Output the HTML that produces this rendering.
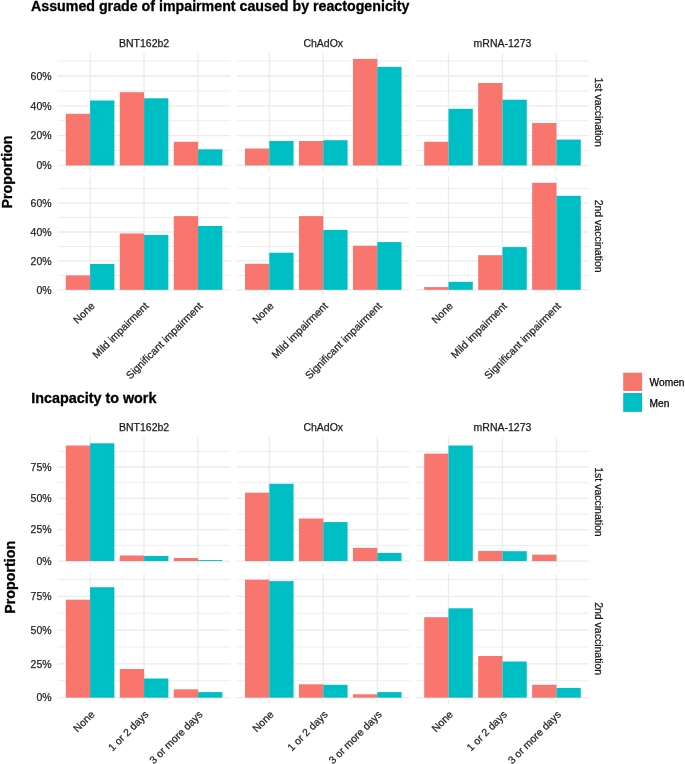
<!DOCTYPE html>
<html><head><meta charset="utf-8"><title>Chart</title>
<style>
html,body{margin:0;padding:0;background:#fff;}
body{width:685px;height:764px;overflow:hidden;}
svg{display:block;}
text{font-family:"Liberation Sans", sans-serif;}
.ax{font-size:10.5px;fill:#262626;stroke:#262626;stroke-width:0.25px;}
.st{font-size:10.5px;fill:#1A1A1A;stroke:#1A1A1A;stroke-width:0.25px;}
.lg{font-size:10.2px;fill:#000;stroke:#000;stroke-width:0.25px;}
.yt{font-size:14.3px;font-weight:bold;fill:#000;stroke:#000;stroke-width:0.3px;}
.tt{font-size:14px;font-weight:bold;fill:#000;stroke:#000;stroke-width:0.3px;}
</style></head>
<body>
<svg width="685" height="764" viewBox="0 0 685 764">
<defs><filter id="gs" x="0" y="0" width="100%" height="100%" filterUnits="userSpaceOnUse"><feColorMatrix type="saturate" values="0"/></filter></defs>
<rect x="0" y="0" width="685" height="764" fill="#fff"/>
<line x1="57.7" x2="230.45" y1="150.54" y2="150.54" stroke="#EDEDED" stroke-width="1"/>
<line x1="57.7" x2="230.45" y1="120.72" y2="120.72" stroke="#EDEDED" stroke-width="1"/>
<line x1="57.7" x2="230.45" y1="90.9" y2="90.9" stroke="#EDEDED" stroke-width="1"/>
<line x1="57.7" x2="230.45" y1="61.08" y2="61.08" stroke="#EDEDED" stroke-width="1"/>
<line x1="57.7" x2="230.45" y1="165.45" y2="165.45" stroke="#EBEBEB" stroke-width="1.3"/>
<line x1="57.7" x2="230.45" y1="135.63" y2="135.63" stroke="#EBEBEB" stroke-width="1.3"/>
<line x1="57.7" x2="230.45" y1="105.81" y2="105.81" stroke="#EBEBEB" stroke-width="1.3"/>
<line x1="57.7" x2="230.45" y1="75.99" y2="75.99" stroke="#EBEBEB" stroke-width="1.3"/>
<line x1="90.09" x2="90.09" y1="53.3" y2="171.1" stroke="#EBEBEB" stroke-width="1.3"/>
<line x1="144.07" x2="144.07" y1="53.3" y2="171.1" stroke="#EBEBEB" stroke-width="1.3"/>
<line x1="198.06" x2="198.06" y1="53.3" y2="171.1" stroke="#EBEBEB" stroke-width="1.3"/>
<line x1="236.9" x2="409.65" y1="150.54" y2="150.54" stroke="#EDEDED" stroke-width="1"/>
<line x1="236.9" x2="409.65" y1="120.72" y2="120.72" stroke="#EDEDED" stroke-width="1"/>
<line x1="236.9" x2="409.65" y1="90.9" y2="90.9" stroke="#EDEDED" stroke-width="1"/>
<line x1="236.9" x2="409.65" y1="61.08" y2="61.08" stroke="#EDEDED" stroke-width="1"/>
<line x1="236.9" x2="409.65" y1="165.45" y2="165.45" stroke="#EBEBEB" stroke-width="1.3"/>
<line x1="236.9" x2="409.65" y1="135.63" y2="135.63" stroke="#EBEBEB" stroke-width="1.3"/>
<line x1="236.9" x2="409.65" y1="105.81" y2="105.81" stroke="#EBEBEB" stroke-width="1.3"/>
<line x1="236.9" x2="409.65" y1="75.99" y2="75.99" stroke="#EBEBEB" stroke-width="1.3"/>
<line x1="269.29" x2="269.29" y1="53.3" y2="171.1" stroke="#EBEBEB" stroke-width="1.3"/>
<line x1="323.27" x2="323.27" y1="53.3" y2="171.1" stroke="#EBEBEB" stroke-width="1.3"/>
<line x1="377.26" x2="377.26" y1="53.3" y2="171.1" stroke="#EBEBEB" stroke-width="1.3"/>
<line x1="416.1" x2="588.85" y1="150.54" y2="150.54" stroke="#EDEDED" stroke-width="1"/>
<line x1="416.1" x2="588.85" y1="120.72" y2="120.72" stroke="#EDEDED" stroke-width="1"/>
<line x1="416.1" x2="588.85" y1="90.9" y2="90.9" stroke="#EDEDED" stroke-width="1"/>
<line x1="416.1" x2="588.85" y1="61.08" y2="61.08" stroke="#EDEDED" stroke-width="1"/>
<line x1="416.1" x2="588.85" y1="165.45" y2="165.45" stroke="#EBEBEB" stroke-width="1.3"/>
<line x1="416.1" x2="588.85" y1="135.63" y2="135.63" stroke="#EBEBEB" stroke-width="1.3"/>
<line x1="416.1" x2="588.85" y1="105.81" y2="105.81" stroke="#EBEBEB" stroke-width="1.3"/>
<line x1="416.1" x2="588.85" y1="75.99" y2="75.99" stroke="#EBEBEB" stroke-width="1.3"/>
<line x1="448.49" x2="448.49" y1="53.3" y2="171.1" stroke="#EBEBEB" stroke-width="1.3"/>
<line x1="502.48" x2="502.48" y1="53.3" y2="171.1" stroke="#EBEBEB" stroke-width="1.3"/>
<line x1="556.46" x2="556.46" y1="53.3" y2="171.1" stroke="#EBEBEB" stroke-width="1.3"/>
<rect x="65.8" y="113.8" width="24.29" height="51.65" fill="#F8766D"/>
<rect x="90.09" y="100.5" width="24.29" height="64.95" fill="#00BFC4"/>
<rect x="119.78" y="92.2" width="24.29" height="73.25" fill="#F8766D"/>
<rect x="144.07" y="98.3" width="24.29" height="67.15" fill="#00BFC4"/>
<rect x="173.77" y="141.8" width="24.29" height="23.65" fill="#F8766D"/>
<rect x="198.06" y="149.3" width="24.29" height="16.15" fill="#00BFC4"/>
<rect x="245" y="148.5" width="24.29" height="16.95" fill="#F8766D"/>
<rect x="269.29" y="141" width="24.29" height="24.45" fill="#00BFC4"/>
<rect x="298.98" y="141" width="24.29" height="24.45" fill="#F8766D"/>
<rect x="323.27" y="140.2" width="24.29" height="25.25" fill="#00BFC4"/>
<rect x="352.97" y="58.9" width="24.29" height="106.55" fill="#F8766D"/>
<rect x="377.26" y="66.9" width="24.29" height="98.55" fill="#00BFC4"/>
<rect x="424.2" y="141.8" width="24.29" height="23.65" fill="#F8766D"/>
<rect x="448.49" y="108.8" width="24.29" height="56.65" fill="#00BFC4"/>
<rect x="478.18" y="83" width="24.29" height="82.45" fill="#F8766D"/>
<rect x="502.48" y="99.7" width="24.29" height="65.75" fill="#00BFC4"/>
<rect x="532.17" y="123" width="24.29" height="42.45" fill="#F8766D"/>
<rect x="556.46" y="139.6" width="24.29" height="25.85" fill="#00BFC4"/>
<line x1="57.7" x2="230.45" y1="275.39" y2="275.39" stroke="#EDEDED" stroke-width="1"/>
<line x1="57.7" x2="230.45" y1="246.48" y2="246.48" stroke="#EDEDED" stroke-width="1"/>
<line x1="57.7" x2="230.45" y1="217.57" y2="217.57" stroke="#EDEDED" stroke-width="1"/>
<line x1="57.7" x2="230.45" y1="188.65" y2="188.65" stroke="#EDEDED" stroke-width="1"/>
<line x1="57.7" x2="230.45" y1="289.85" y2="289.85" stroke="#EBEBEB" stroke-width="1.3"/>
<line x1="57.7" x2="230.45" y1="260.94" y2="260.94" stroke="#EBEBEB" stroke-width="1.3"/>
<line x1="57.7" x2="230.45" y1="232.02" y2="232.02" stroke="#EBEBEB" stroke-width="1.3"/>
<line x1="57.7" x2="230.45" y1="203.11" y2="203.11" stroke="#EBEBEB" stroke-width="1.3"/>
<line x1="90.09" x2="90.09" y1="177.2" y2="295.1" stroke="#EBEBEB" stroke-width="1.3"/>
<line x1="144.07" x2="144.07" y1="177.2" y2="295.1" stroke="#EBEBEB" stroke-width="1.3"/>
<line x1="198.06" x2="198.06" y1="177.2" y2="295.1" stroke="#EBEBEB" stroke-width="1.3"/>
<line x1="236.9" x2="409.65" y1="275.39" y2="275.39" stroke="#EDEDED" stroke-width="1"/>
<line x1="236.9" x2="409.65" y1="246.48" y2="246.48" stroke="#EDEDED" stroke-width="1"/>
<line x1="236.9" x2="409.65" y1="217.57" y2="217.57" stroke="#EDEDED" stroke-width="1"/>
<line x1="236.9" x2="409.65" y1="188.65" y2="188.65" stroke="#EDEDED" stroke-width="1"/>
<line x1="236.9" x2="409.65" y1="289.85" y2="289.85" stroke="#EBEBEB" stroke-width="1.3"/>
<line x1="236.9" x2="409.65" y1="260.94" y2="260.94" stroke="#EBEBEB" stroke-width="1.3"/>
<line x1="236.9" x2="409.65" y1="232.02" y2="232.02" stroke="#EBEBEB" stroke-width="1.3"/>
<line x1="236.9" x2="409.65" y1="203.11" y2="203.11" stroke="#EBEBEB" stroke-width="1.3"/>
<line x1="269.29" x2="269.29" y1="177.2" y2="295.1" stroke="#EBEBEB" stroke-width="1.3"/>
<line x1="323.27" x2="323.27" y1="177.2" y2="295.1" stroke="#EBEBEB" stroke-width="1.3"/>
<line x1="377.26" x2="377.26" y1="177.2" y2="295.1" stroke="#EBEBEB" stroke-width="1.3"/>
<line x1="416.1" x2="588.85" y1="275.39" y2="275.39" stroke="#EDEDED" stroke-width="1"/>
<line x1="416.1" x2="588.85" y1="246.48" y2="246.48" stroke="#EDEDED" stroke-width="1"/>
<line x1="416.1" x2="588.85" y1="217.57" y2="217.57" stroke="#EDEDED" stroke-width="1"/>
<line x1="416.1" x2="588.85" y1="188.65" y2="188.65" stroke="#EDEDED" stroke-width="1"/>
<line x1="416.1" x2="588.85" y1="289.85" y2="289.85" stroke="#EBEBEB" stroke-width="1.3"/>
<line x1="416.1" x2="588.85" y1="260.94" y2="260.94" stroke="#EBEBEB" stroke-width="1.3"/>
<line x1="416.1" x2="588.85" y1="232.02" y2="232.02" stroke="#EBEBEB" stroke-width="1.3"/>
<line x1="416.1" x2="588.85" y1="203.11" y2="203.11" stroke="#EBEBEB" stroke-width="1.3"/>
<line x1="448.49" x2="448.49" y1="177.2" y2="295.1" stroke="#EBEBEB" stroke-width="1.3"/>
<line x1="502.48" x2="502.48" y1="177.2" y2="295.1" stroke="#EBEBEB" stroke-width="1.3"/>
<line x1="556.46" x2="556.46" y1="177.2" y2="295.1" stroke="#EBEBEB" stroke-width="1.3"/>
<rect x="65.8" y="275.4" width="24.29" height="14.45" fill="#F8766D"/>
<rect x="90.09" y="264" width="24.29" height="25.85" fill="#00BFC4"/>
<rect x="119.78" y="233.5" width="24.29" height="56.35" fill="#F8766D"/>
<rect x="144.07" y="234.9" width="24.29" height="54.95" fill="#00BFC4"/>
<rect x="173.77" y="216.1" width="24.29" height="73.75" fill="#F8766D"/>
<rect x="198.06" y="226" width="24.29" height="63.85" fill="#00BFC4"/>
<rect x="245" y="263.8" width="24.29" height="26.05" fill="#F8766D"/>
<rect x="269.29" y="252.7" width="24.29" height="37.15" fill="#00BFC4"/>
<rect x="298.98" y="216.1" width="24.29" height="73.75" fill="#F8766D"/>
<rect x="323.27" y="229.9" width="24.29" height="59.95" fill="#00BFC4"/>
<rect x="352.97" y="245.7" width="24.29" height="44.15" fill="#F8766D"/>
<rect x="377.26" y="242.1" width="24.29" height="47.75" fill="#00BFC4"/>
<rect x="424.2" y="287.1" width="24.29" height="2.75" fill="#F8766D"/>
<rect x="448.49" y="281.8" width="24.29" height="8.05" fill="#00BFC4"/>
<rect x="478.18" y="255.2" width="24.29" height="34.65" fill="#F8766D"/>
<rect x="502.48" y="247.1" width="24.29" height="42.75" fill="#00BFC4"/>
<rect x="532.17" y="182.8" width="24.29" height="107.05" fill="#F8766D"/>
<rect x="556.46" y="195.8" width="24.29" height="94.05" fill="#00BFC4"/>
<line x1="57.7" x2="230.45" y1="545.38" y2="545.38" stroke="#EDEDED" stroke-width="1"/>
<line x1="57.7" x2="230.45" y1="514.04" y2="514.04" stroke="#EDEDED" stroke-width="1"/>
<line x1="57.7" x2="230.45" y1="482.69" y2="482.69" stroke="#EDEDED" stroke-width="1"/>
<line x1="57.7" x2="230.45" y1="451.35" y2="451.35" stroke="#EDEDED" stroke-width="1"/>
<line x1="57.7" x2="230.45" y1="561.05" y2="561.05" stroke="#EBEBEB" stroke-width="1.3"/>
<line x1="57.7" x2="230.45" y1="529.71" y2="529.71" stroke="#EBEBEB" stroke-width="1.3"/>
<line x1="57.7" x2="230.45" y1="498.36" y2="498.36" stroke="#EBEBEB" stroke-width="1.3"/>
<line x1="57.7" x2="230.45" y1="467.02" y2="467.02" stroke="#EBEBEB" stroke-width="1.3"/>
<line x1="90.09" x2="90.09" y1="437" y2="566.9" stroke="#EBEBEB" stroke-width="1.3"/>
<line x1="144.07" x2="144.07" y1="437" y2="566.9" stroke="#EBEBEB" stroke-width="1.3"/>
<line x1="198.06" x2="198.06" y1="437" y2="566.9" stroke="#EBEBEB" stroke-width="1.3"/>
<line x1="236.9" x2="409.65" y1="545.38" y2="545.38" stroke="#EDEDED" stroke-width="1"/>
<line x1="236.9" x2="409.65" y1="514.04" y2="514.04" stroke="#EDEDED" stroke-width="1"/>
<line x1="236.9" x2="409.65" y1="482.69" y2="482.69" stroke="#EDEDED" stroke-width="1"/>
<line x1="236.9" x2="409.65" y1="451.35" y2="451.35" stroke="#EDEDED" stroke-width="1"/>
<line x1="236.9" x2="409.65" y1="561.05" y2="561.05" stroke="#EBEBEB" stroke-width="1.3"/>
<line x1="236.9" x2="409.65" y1="529.71" y2="529.71" stroke="#EBEBEB" stroke-width="1.3"/>
<line x1="236.9" x2="409.65" y1="498.36" y2="498.36" stroke="#EBEBEB" stroke-width="1.3"/>
<line x1="236.9" x2="409.65" y1="467.02" y2="467.02" stroke="#EBEBEB" stroke-width="1.3"/>
<line x1="269.29" x2="269.29" y1="437" y2="566.9" stroke="#EBEBEB" stroke-width="1.3"/>
<line x1="323.27" x2="323.27" y1="437" y2="566.9" stroke="#EBEBEB" stroke-width="1.3"/>
<line x1="377.26" x2="377.26" y1="437" y2="566.9" stroke="#EBEBEB" stroke-width="1.3"/>
<line x1="416.1" x2="588.85" y1="545.38" y2="545.38" stroke="#EDEDED" stroke-width="1"/>
<line x1="416.1" x2="588.85" y1="514.04" y2="514.04" stroke="#EDEDED" stroke-width="1"/>
<line x1="416.1" x2="588.85" y1="482.69" y2="482.69" stroke="#EDEDED" stroke-width="1"/>
<line x1="416.1" x2="588.85" y1="451.35" y2="451.35" stroke="#EDEDED" stroke-width="1"/>
<line x1="416.1" x2="588.85" y1="561.05" y2="561.05" stroke="#EBEBEB" stroke-width="1.3"/>
<line x1="416.1" x2="588.85" y1="529.71" y2="529.71" stroke="#EBEBEB" stroke-width="1.3"/>
<line x1="416.1" x2="588.85" y1="498.36" y2="498.36" stroke="#EBEBEB" stroke-width="1.3"/>
<line x1="416.1" x2="588.85" y1="467.02" y2="467.02" stroke="#EBEBEB" stroke-width="1.3"/>
<line x1="448.49" x2="448.49" y1="437" y2="566.9" stroke="#EBEBEB" stroke-width="1.3"/>
<line x1="502.48" x2="502.48" y1="437" y2="566.9" stroke="#EBEBEB" stroke-width="1.3"/>
<line x1="556.46" x2="556.46" y1="437" y2="566.9" stroke="#EBEBEB" stroke-width="1.3"/>
<rect x="65.8" y="445.5" width="24.29" height="115.55" fill="#F8766D"/>
<rect x="90.09" y="443.3" width="24.29" height="117.75" fill="#00BFC4"/>
<rect x="119.78" y="555.5" width="24.29" height="5.55" fill="#F8766D"/>
<rect x="144.07" y="556" width="24.29" height="5.05" fill="#00BFC4"/>
<rect x="173.77" y="558" width="24.29" height="3.05" fill="#F8766D"/>
<rect x="198.06" y="560.1" width="24.29" height="0.95" fill="#00BFC4"/>
<rect x="245" y="492.7" width="24.29" height="68.35" fill="#F8766D"/>
<rect x="269.29" y="483.8" width="24.29" height="77.25" fill="#00BFC4"/>
<rect x="298.98" y="518.5" width="24.29" height="42.55" fill="#F8766D"/>
<rect x="323.27" y="522.1" width="24.29" height="38.95" fill="#00BFC4"/>
<rect x="352.97" y="547.9" width="24.29" height="13.15" fill="#F8766D"/>
<rect x="377.26" y="552.9" width="24.29" height="8.15" fill="#00BFC4"/>
<rect x="424.2" y="453.6" width="24.29" height="107.45" fill="#F8766D"/>
<rect x="448.49" y="445.5" width="24.29" height="115.55" fill="#00BFC4"/>
<rect x="478.18" y="550.9" width="24.29" height="10.15" fill="#F8766D"/>
<rect x="502.48" y="551.2" width="24.29" height="9.85" fill="#00BFC4"/>
<rect x="532.17" y="554.7" width="24.29" height="6.35" fill="#F8766D"/>
<line x1="57.7" x2="230.45" y1="680.76" y2="680.76" stroke="#EDEDED" stroke-width="1"/>
<line x1="57.7" x2="230.45" y1="646.99" y2="646.99" stroke="#EDEDED" stroke-width="1"/>
<line x1="57.7" x2="230.45" y1="613.21" y2="613.21" stroke="#EDEDED" stroke-width="1"/>
<line x1="57.7" x2="230.45" y1="579.44" y2="579.44" stroke="#EDEDED" stroke-width="1"/>
<line x1="57.7" x2="230.45" y1="697.65" y2="697.65" stroke="#EBEBEB" stroke-width="1.3"/>
<line x1="57.7" x2="230.45" y1="663.88" y2="663.88" stroke="#EBEBEB" stroke-width="1.3"/>
<line x1="57.7" x2="230.45" y1="630.1" y2="630.1" stroke="#EBEBEB" stroke-width="1.3"/>
<line x1="57.7" x2="230.45" y1="596.32" y2="596.32" stroke="#EBEBEB" stroke-width="1.3"/>
<line x1="90.09" x2="90.09" y1="573.7" y2="703.6" stroke="#EBEBEB" stroke-width="1.3"/>
<line x1="144.07" x2="144.07" y1="573.7" y2="703.6" stroke="#EBEBEB" stroke-width="1.3"/>
<line x1="198.06" x2="198.06" y1="573.7" y2="703.6" stroke="#EBEBEB" stroke-width="1.3"/>
<line x1="236.9" x2="409.65" y1="680.76" y2="680.76" stroke="#EDEDED" stroke-width="1"/>
<line x1="236.9" x2="409.65" y1="646.99" y2="646.99" stroke="#EDEDED" stroke-width="1"/>
<line x1="236.9" x2="409.65" y1="613.21" y2="613.21" stroke="#EDEDED" stroke-width="1"/>
<line x1="236.9" x2="409.65" y1="579.44" y2="579.44" stroke="#EDEDED" stroke-width="1"/>
<line x1="236.9" x2="409.65" y1="697.65" y2="697.65" stroke="#EBEBEB" stroke-width="1.3"/>
<line x1="236.9" x2="409.65" y1="663.88" y2="663.88" stroke="#EBEBEB" stroke-width="1.3"/>
<line x1="236.9" x2="409.65" y1="630.1" y2="630.1" stroke="#EBEBEB" stroke-width="1.3"/>
<line x1="236.9" x2="409.65" y1="596.32" y2="596.32" stroke="#EBEBEB" stroke-width="1.3"/>
<line x1="269.29" x2="269.29" y1="573.7" y2="703.6" stroke="#EBEBEB" stroke-width="1.3"/>
<line x1="323.27" x2="323.27" y1="573.7" y2="703.6" stroke="#EBEBEB" stroke-width="1.3"/>
<line x1="377.26" x2="377.26" y1="573.7" y2="703.6" stroke="#EBEBEB" stroke-width="1.3"/>
<line x1="416.1" x2="588.85" y1="680.76" y2="680.76" stroke="#EDEDED" stroke-width="1"/>
<line x1="416.1" x2="588.85" y1="646.99" y2="646.99" stroke="#EDEDED" stroke-width="1"/>
<line x1="416.1" x2="588.85" y1="613.21" y2="613.21" stroke="#EDEDED" stroke-width="1"/>
<line x1="416.1" x2="588.85" y1="579.44" y2="579.44" stroke="#EDEDED" stroke-width="1"/>
<line x1="416.1" x2="588.85" y1="697.65" y2="697.65" stroke="#EBEBEB" stroke-width="1.3"/>
<line x1="416.1" x2="588.85" y1="663.88" y2="663.88" stroke="#EBEBEB" stroke-width="1.3"/>
<line x1="416.1" x2="588.85" y1="630.1" y2="630.1" stroke="#EBEBEB" stroke-width="1.3"/>
<line x1="416.1" x2="588.85" y1="596.32" y2="596.32" stroke="#EBEBEB" stroke-width="1.3"/>
<line x1="448.49" x2="448.49" y1="573.7" y2="703.6" stroke="#EBEBEB" stroke-width="1.3"/>
<line x1="502.48" x2="502.48" y1="573.7" y2="703.6" stroke="#EBEBEB" stroke-width="1.3"/>
<line x1="556.46" x2="556.46" y1="573.7" y2="703.6" stroke="#EBEBEB" stroke-width="1.3"/>
<rect x="65.8" y="599.7" width="24.29" height="97.95" fill="#F8766D"/>
<rect x="90.09" y="587.2" width="24.29" height="110.45" fill="#00BFC4"/>
<rect x="119.78" y="669" width="24.29" height="28.65" fill="#F8766D"/>
<rect x="144.07" y="678.5" width="24.29" height="19.15" fill="#00BFC4"/>
<rect x="173.77" y="689.3" width="24.29" height="8.35" fill="#F8766D"/>
<rect x="198.06" y="692.1" width="24.29" height="5.55" fill="#00BFC4"/>
<rect x="245" y="579.7" width="24.29" height="117.95" fill="#F8766D"/>
<rect x="269.29" y="581.1" width="24.29" height="116.55" fill="#00BFC4"/>
<rect x="298.98" y="684.3" width="24.29" height="13.35" fill="#F8766D"/>
<rect x="323.27" y="684.8" width="24.29" height="12.85" fill="#00BFC4"/>
<rect x="352.97" y="694.3" width="24.29" height="3.35" fill="#F8766D"/>
<rect x="377.26" y="692.1" width="24.29" height="5.55" fill="#00BFC4"/>
<rect x="424.2" y="617.2" width="24.29" height="80.45" fill="#F8766D"/>
<rect x="448.49" y="608.3" width="24.29" height="89.35" fill="#00BFC4"/>
<rect x="478.18" y="656" width="24.29" height="41.65" fill="#F8766D"/>
<rect x="502.48" y="661.5" width="24.29" height="36.15" fill="#00BFC4"/>
<rect x="532.17" y="684.8" width="24.29" height="12.85" fill="#F8766D"/>
<rect x="556.46" y="687.9" width="24.29" height="9.75" fill="#00BFC4"/>
<rect x="623.2" y="372.7" width="18.9" height="18.3" fill="#F8766D"/>
<rect x="623.2" y="393.0" width="18.9" height="18.9" fill="#00BFC4"/>
<g filter="url(#gs)">
<text x="51.6" y="169.15" text-anchor="end" class="ax">0%</text>
<text x="51.6" y="139.33" text-anchor="end" class="ax">20%</text>
<text x="51.6" y="109.51" text-anchor="end" class="ax">40%</text>
<text x="51.6" y="79.69" text-anchor="end" class="ax">60%</text>
<text transform="translate(595.0,112.2) rotate(90)" text-anchor="middle" class="st">1st vaccination</text>
<text x="51.6" y="293.55" text-anchor="end" class="ax">0%</text>
<text x="51.6" y="264.64" text-anchor="end" class="ax">20%</text>
<text x="51.6" y="235.72" text-anchor="end" class="ax">40%</text>
<text x="51.6" y="206.81" text-anchor="end" class="ax">60%</text>
<text transform="translate(595.0,236.15) rotate(90)" text-anchor="middle" class="st">2nd vaccination</text>
<text x="144.07" y="46.6" text-anchor="middle" class="st">BNT162b2</text>
<text x="323.27" y="46.6" text-anchor="middle" class="st">ChAdOx</text>
<text x="502.48" y="46.6" text-anchor="middle" class="st">mRNA-1273</text>
<text transform="translate(95.29,306.6) rotate(-45)" text-anchor="end" class="ax">None</text>
<text transform="translate(149.27,306.6) rotate(-45)" text-anchor="end" class="ax">Mild impairment</text>
<text transform="translate(203.26,306.6) rotate(-45)" text-anchor="end" class="ax">Significant impairment</text>
<text transform="translate(274.49,306.6) rotate(-45)" text-anchor="end" class="ax">None</text>
<text transform="translate(328.47,306.6) rotate(-45)" text-anchor="end" class="ax">Mild impairment</text>
<text transform="translate(382.46,306.6) rotate(-45)" text-anchor="end" class="ax">Significant impairment</text>
<text transform="translate(453.69,306.6) rotate(-45)" text-anchor="end" class="ax">None</text>
<text transform="translate(507.68,306.6) rotate(-45)" text-anchor="end" class="ax">Mild impairment</text>
<text transform="translate(561.66,306.6) rotate(-45)" text-anchor="end" class="ax">Significant impairment</text>
<text transform="translate(11.7,171.95) rotate(-90)" text-anchor="middle" class="yt">Proportion</text>
<text x="51.6" y="564.75" text-anchor="end" class="ax">0%</text>
<text x="51.6" y="533.41" text-anchor="end" class="ax">25%</text>
<text x="51.6" y="502.06" text-anchor="end" class="ax">50%</text>
<text x="51.6" y="470.72" text-anchor="end" class="ax">75%</text>
<text transform="translate(595.0,501.95) rotate(90)" text-anchor="middle" class="st">1st vaccination</text>
<text x="51.6" y="701.35" text-anchor="end" class="ax">0%</text>
<text x="51.6" y="667.58" text-anchor="end" class="ax">25%</text>
<text x="51.6" y="633.8" text-anchor="end" class="ax">50%</text>
<text x="51.6" y="600.02" text-anchor="end" class="ax">75%</text>
<text transform="translate(595.0,638.65) rotate(90)" text-anchor="middle" class="st">2nd vaccination</text>
<text x="144.07" y="430.9" text-anchor="middle" class="st">BNT162b2</text>
<text x="323.27" y="430.9" text-anchor="middle" class="st">ChAdOx</text>
<text x="502.48" y="430.9" text-anchor="middle" class="st">mRNA-1273</text>
<text transform="translate(95.29,715.1) rotate(-45)" text-anchor="end" class="ax">None</text>
<text transform="translate(149.27,715.1) rotate(-45)" text-anchor="end" class="ax">1 or 2 days</text>
<text transform="translate(203.26,715.1) rotate(-45)" text-anchor="end" class="ax">3 or more days</text>
<text transform="translate(274.49,715.1) rotate(-45)" text-anchor="end" class="ax">None</text>
<text transform="translate(328.47,715.1) rotate(-45)" text-anchor="end" class="ax">1 or 2 days</text>
<text transform="translate(382.46,715.1) rotate(-45)" text-anchor="end" class="ax">3 or more days</text>
<text transform="translate(453.69,715.1) rotate(-45)" text-anchor="end" class="ax">None</text>
<text transform="translate(507.68,715.1) rotate(-45)" text-anchor="end" class="ax">1 or 2 days</text>
<text transform="translate(561.66,715.1) rotate(-45)" text-anchor="end" class="ax">3 or more days</text>
<text transform="translate(15,577.25) rotate(-90)" text-anchor="middle" class="yt">Proportion</text>
<text x="31.0" y="11.0" class="tt" textLength="378.4" lengthAdjust="spacingAndGlyphs">Assumed grade of impairment caused by reactogenicity</text>
<text x="31.3" y="402.7" class="tt" textLength="125.1" lengthAdjust="spacingAndGlyphs">Incapacity to work</text>
<text x="649.6" y="386.1" class="lg">Women</text>
<text x="649.6" y="406.5" class="lg">Men</text>
</g>
</svg>
</body></html>
